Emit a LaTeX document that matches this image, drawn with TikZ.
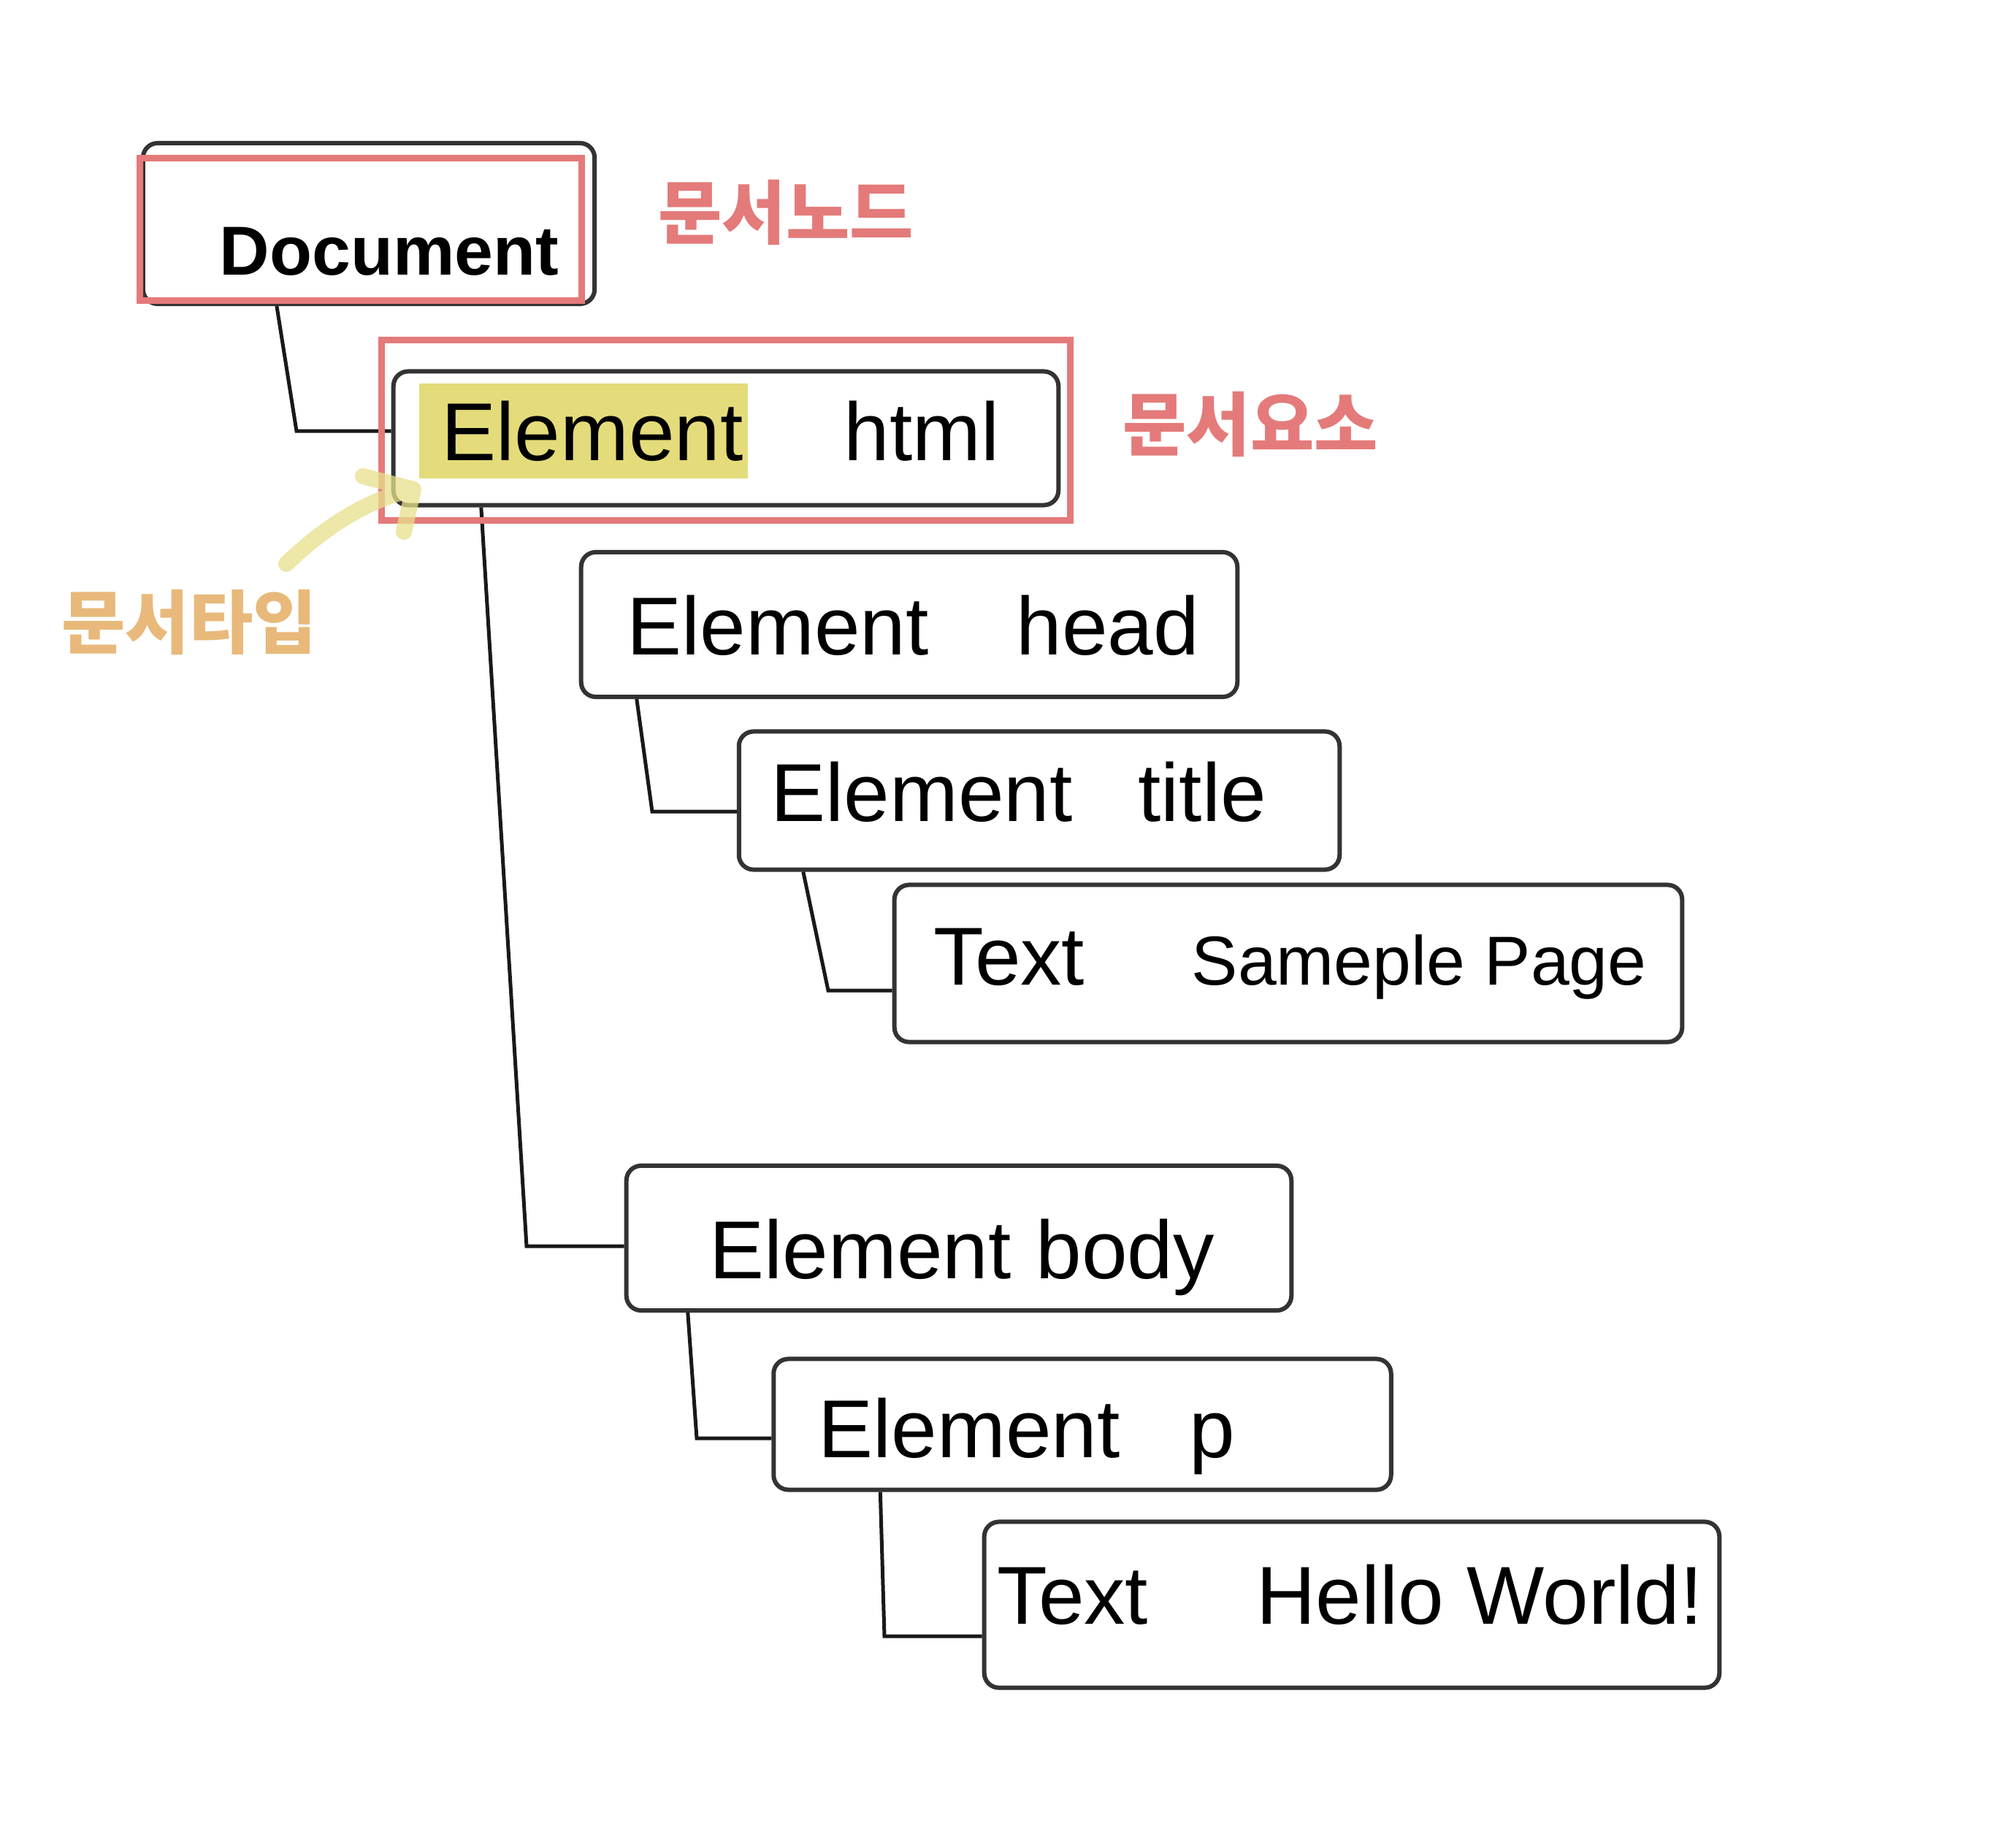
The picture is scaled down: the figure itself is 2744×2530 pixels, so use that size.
\documentclass[tikz,border=0pt]{standalone}
\usepackage{fontspec}
\setmainfont{Liberation Sans}
\newfontfamily\krfont{Noto Sans CJK KR}
\usetikzlibrary{calc}
\definecolor{redc}{RGB}{228,122,122}
\definecolor{hlc}{RGB}{228,220,122}
\definecolor{orangec}{RGB}{232,185,122}
\definecolor{arrowc}{RGB}{232,224,140}
\tikzset{
  hbox/.style={draw=black!80, line width=0.6mm, rounded corners=2mm, inner sep=0},
  redbox/.style={draw=redc, line width=0.9mm, inner sep=0},
  hand/.style={font=\fontsize{32}{36}\selectfont, anchor=base west, inner sep=0},
  handsm/.style={font=\fontsize{27}{30}\selectfont, anchor=base west, inner sep=0},
  handdoc/.style={font=\bfseries\fontsize{27}{32}\selectfont, anchor=base west, inner sep=0},
  conn/.style={draw=black!90, line width=0.5mm},
  krlabel/.style={font=\krfont\bfseries\fontsize{27}{30}\selectfont, inner sep=0},
  hlbox/.style={fill=hlc, inner sep=0},
  arrowy/.style={draw=arrowc, draw opacity=0.75, line width=2.2mm, line cap=round, line join=round}
}
\begin{document}
\begin{tikzpicture}[x=0.01cm, y=-0.01cm]
\useasboundingbox (0,0) rectangle (2744,2530);
\fill[white] (0,0) rectangle (2744,2530);

% hand-drawn boxes
\node[hbox, minimum width=61.8mm, minimum height=22mm] (doc) at (505,306) {};
\node[hbox, minimum width=91mm, minimum height=18.3mm] (html) at (994,600) {};
\node[hbox, minimum width=89.8mm, minimum height=19.8mm] (head) at (1245,855) {};
\node[hbox, minimum width=82.2mm, minimum height=18.9mm] (title) at (1423,1096) {};
\node[hbox, minimum width=107.8mm, minimum height=21.5mm] (text1) at (1764,1319) {};
\node[hbox, minimum width=91mm, minimum height=19.8mm] (body) at (1313,1695) {};
\node[hbox, minimum width=84.5mm, minimum height=17.9mm] (p) at (1482,1950) {};
\node[hbox, minimum width=100.6mm, minimum height=22.7mm] (text2) at (1851,2197) {};

% highlight
\node[hlbox, minimum width=45mm, minimum height=13mm] (hl) at (799,590) {};

% connectors
\coordinate (b1) at (406,590);
\draw[conn] ([xshift=18.6mm]doc.south west) -- (b1) -- (b1 -| html.west);
\coordinate (b2) at (721,1706);
\draw[conn] ([xshift=12.3mm]html.south west) -- (b2) -- (b2 -| body.west);
\coordinate (b3) at (893,1111);
\draw[conn] ([xshift=7.9mm]head.south west) -- (b3) -- (b3 -| title.west);
\coordinate (b4) at (1134,1356);
\draw[conn] ([xshift=9.1mm]title.south west) -- (b4) -- (b4 -| text1.west);
\coordinate (b5) at (954,1969);
\draw[conn] ([xshift=8.7mm]body.south west) -- (b5) -- (b5 -| p.west);
\coordinate (b6) at (1211,2240);
\draw[conn] ([xshift=14.9mm]p.south west) -- (b6) -- (b6 -| text2.west);

% texts
\node[handdoc] (tdoc) at (300,376) {Document};
\node[hand] (thtml1) at (604,630) {Element};
\node[hand] (thtml2) at (1155,630) {html};
\node[hand] (thead1) at (858,896) {Element};
\node[hand] (thead2) at (1391,896) {head};
\node[hand] (ttitle1) at (1055,1124) {Element};
\node[hand] (ttitle2) at (1558,1124) {title};
\node[hand] (ttext1a) at (1278,1348) {Text};
\node[handsm] (ttext1b) at (1631,1348) {Sameple Page};
\node[hand] (tbody1) at (971,1750) {Element};
\node[hand] (tbody2) at (1418,1750) {body};
\node[hand] (tp1) at (1120,1995) {Element};
\node[hand] (tp2) at (1628,1995) {p};
\node[hand] (ttext2a) at (1365,2223) {Text};
\node[hand] (ttext2b) at (1720,2223) {Hello World!};

% red annotation boxes
\node[redbox, minimum width=60.4mm, minimum height=19.4mm] (docred) at (494,314) {};
\node[redbox, minimum width=94.3mm, minimum height=24.6mm] (htmlred) at (994,589) {};

% labels
\node[krlabel, text=redc] (lnode) at (1076,291) {문서노드};
\node[krlabel, text=redc] (lelem) at (1712,581) {문서요소};
\node[krlabel, text=orangec] (ltype) at (259,852) {문서타입};

% yellow arrow
\coordinate (ya) at (392,772);
\coordinate (yb) at (566,670);
\draw[arrowy] (ya) .. controls (450,716) and (510,682) .. (yb) (497,652) -- (yb) -- (553,728);
\end{tikzpicture}
\end{document}
